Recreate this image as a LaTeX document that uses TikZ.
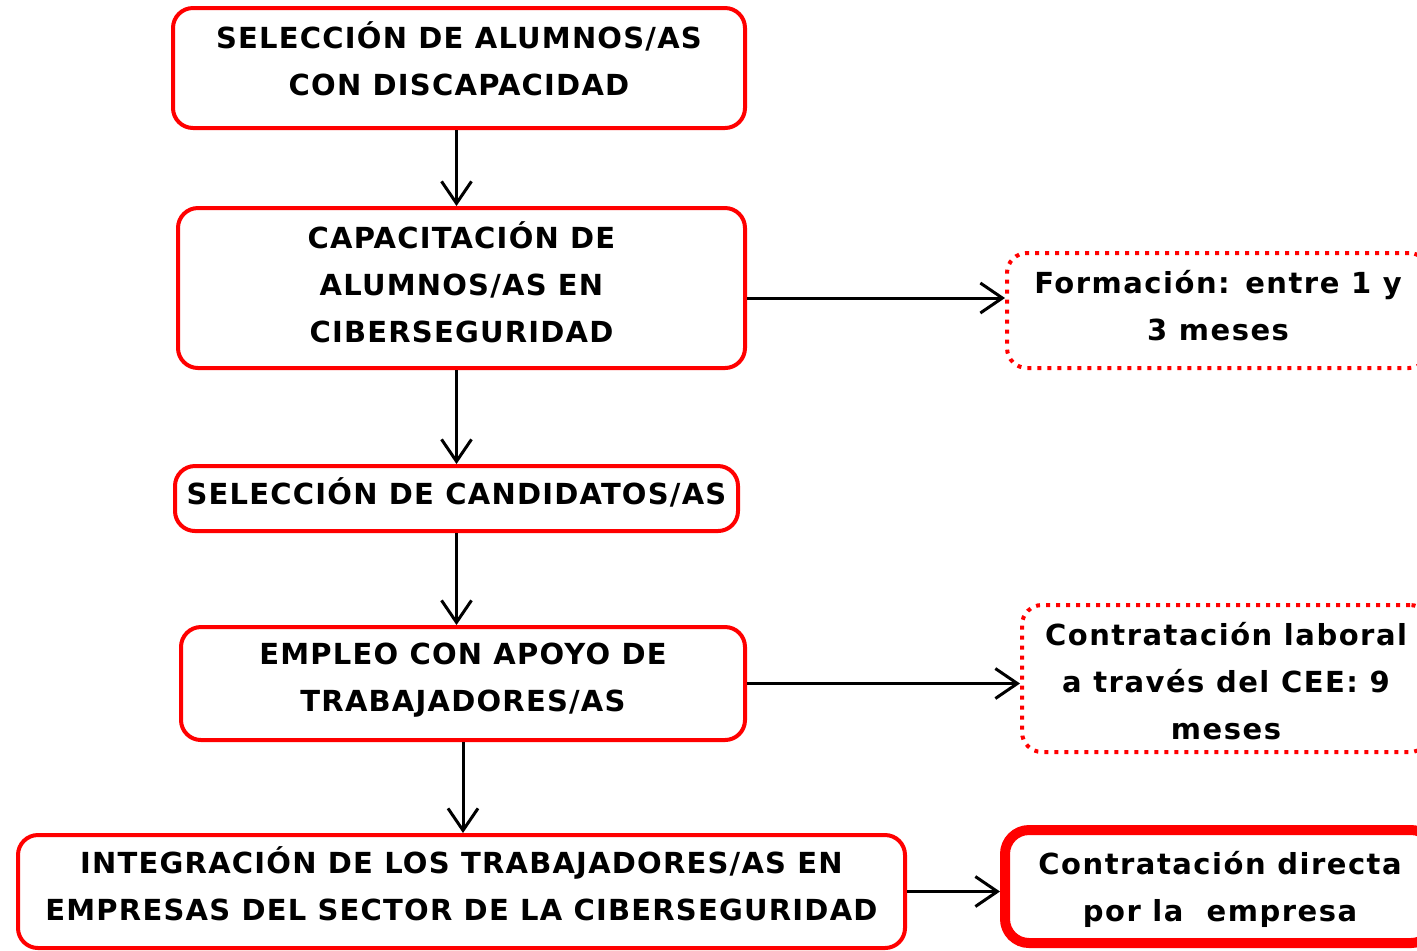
\documentclass[tikz,border=0pt]{standalone}
\usepackage{fontspec}
\setmainfont{DejaVu Sans}
\newfontfamily\capsfont{DejaVu Sans}[LetterSpace=4.2]
\newfontfamily\lowfont{DejaVu Sans}[LetterSpace=5.2]
\usetikzlibrary{arrows.meta,calc}
\definecolor{boxred}{RGB}{255,0,0}
\begin{document}
\begin{tikzpicture}[x=0.5pt,y=-0.5pt,
  box/.style={draw=boxred,line width=2pt,rounded corners=10pt,inner sep=0pt},
  txt/.style={align=center,inner sep=0pt,font=\capsfont\fontsize{14.5pt}{23.5pt}\selectfont\bfseries},
  ltxt/.style={txt,font=\lowfont\fontsize{14.5pt}{23.5pt}\selectfont\bfseries},
  dotbox/.style={box,dash pattern=on 2pt off 3pt},
  thickbox/.style={box,line width=5pt,rounded corners=12pt},
  arr/.style={line width=1.5pt,-{Straight Barb[length=11pt,width=15pt,line width=1.5pt]}}]
\useasboundingbox (0,0) rectangle (1417,950);
\clip (0,0) rectangle (1417,950);
\node[box,minimum width=286pt,minimum height=60pt,
  label={[txt,yshift=4.75pt]center:{SELECCIÓN DE ALUMNOS/AS\\CON DISCAPACIDAD}}] (b1) at (459,68) {};
\node[box,minimum width=283.5pt,minimum height=80pt,
  label={[txt,yshift=3pt]center:{CAPACITACIÓN DE\\ALUMNOS/AS EN\\CIBERSEGURIDAD}}] (b2) at (461.5,288) {};
\node[box,minimum width=281.5pt,minimum height=32.5pt,
  label={[txt,yshift=3pt]center:{SELECCIÓN DE CANDIDATOS/AS}}] (b3) at (456.5,498.5) {};
\node[box,minimum width=282pt,minimum height=56.5pt,
  label={[txt,yshift=1.75pt]center:{EMPLEO CON APOYO DE\\TRABAJADORES/AS}}] (b4) at (463,683.5) {};
\node[box,minimum width=443.5pt,minimum height=56.5pt,
  label={[txt,yshift=3.75pt]center:{INTEGRACIÓN DE LOS TRABAJADORES/AS EN\\EMPRESAS DEL SECTOR DE LA CIBERSEGURIDAD}}] (b5) at (461.5,891.5) {};
\node[dotbox,minimum width=211pt,minimum height=57.5pt,
  label={[ltxt,yshift=2.5pt]center:{Formación: entre 1 y\\3 meses}}] (r1) at (1218,310.5) {};
\node[dotbox,minimum width=204pt,minimum height=73.5pt,
  label={[ltxt,yshift=-1.5pt]center:{Contratación laboral\\a través del CEE: 9\\meses}}] (r2) at (1226,678.5) {};
\node[thickbox,minimum width=215pt,minimum height=56.5pt,
  label={[ltxt,yshift=-1.25pt]center:{Contratación directa\\por la\ \ empresa}}] (r3) at (1220,886.5) {};
\draw[arr] (b1.south -| b3) -- (b2.north -| b3);
\draw[arr] (b2.south -| b3) -- (b3.north);
\draw[arr] (b3.south) -- (b4.north -| b3);
\draw[arr] (b4.south) -- (b4.south |- b5.north);
\draw[arr] ([yshift=-5pt]b2.east) -- ([yshift=-5pt]b2.east -| r1.west);
\draw[arr] (b4.east) -- (b4.east -| r2.west);
\draw[arr] (b5.east) -- (b5.east -| r3.west);
\end{tikzpicture}
\end{document}
